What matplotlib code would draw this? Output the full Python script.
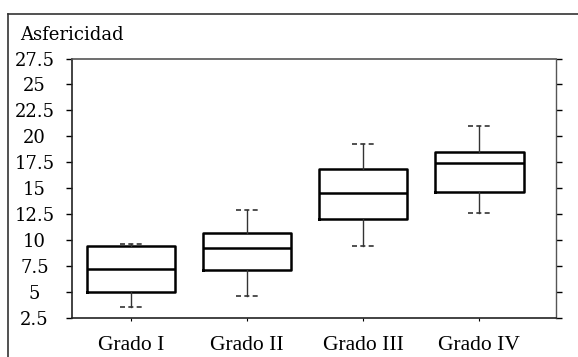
import matplotlib
matplotlib.use("Agg")
import matplotlib.pyplot as plt
from matplotlib.lines import Line2D

# Asphericity by keratoconus grade
grades = ["Grado I", "Grado II", "Grado III", "Grado IV"]
whisker_low = [3.6, 4.6, 9.4, 12.6]
q1 = [5.0, 7.1, 12.0, 14.6]
median = [7.2, 9.2, 14.5, 17.4]
q3 = [9.4, 10.7, 16.9, 18.5]
whisker_high = [9.6, 12.9, 19.3, 21.0]
y_ticks = [2.5, 5, 7.5, 10, 12.5, 15, 17.5, 20, 22.5, 25, 27.5]
y_tick_labels = ["2.5", "5", "7.5", "10", "12.5", "15", "17.5", "20", "22.5", "25", "27.5"]

W, H = 578, 357
fig = plt.figure(figsize=(W / 100, H / 100), dpi=100)
fig.patch.set_facecolor("white")

ax = fig.add_axes([72 / W, 1 - 318 / H, (556 - 72) / W, (318 - 58.5) / H])

stats = []
for i, g in enumerate(grades):
    stats.append(dict(label=g, whislo=whisker_low[i], q1=q1[i], med=median[i],
                      q3=q3[i], whishi=whisker_high[i], fliers=[]))

ax.bxp(stats, positions=[1, 2, 3, 4], widths=0.76, showfliers=False,
       boxprops=dict(color="black", linewidth=1.8),
       medianprops=dict(color="black", linewidth=1.8),
       whiskerprops=dict(color="#333333", linewidth=1.0),
       capprops=dict(color="#333333", linewidth=1.2, linestyle=(0, (3, 2))),
       capwidths=0.2)

ax.set_xlim(0.49, 4.66)
ax.set_ylim(2.5, 27.5)

ax.set_yticks(y_ticks)
ax.set_yticklabels(y_tick_labels, fontfamily="DejaVu Serif", fontsize=13)
ax.tick_params(axis="y", which="both", direction="out", length=4, width=1.0,
               pad=23, right=True, labelright=False, color="black")
for lab in ax.get_yticklabels():
    lab.set_horizontalalignment("center")

ax.set_xticks([1, 2, 3, 4])
ax.set_xticklabels(grades, fontfamily="Liberation Serif", fontsize=15.5)
ax.tick_params(axis="x", direction="out", length=2, width=0.8, pad=11)

for side in ["left", "bottom", "top", "right"]:
    ax.spines[side].set_linewidth(1.2)
    ax.spines[side].set_color("#222222")
ax.spines["top"].set_color("#555555")
ax.spines["right"].set_color("#555555")
ax.spines["right"].set_linewidth(1.0)

# outer panel frame
fig.add_artist(Line2D([8 / W, 1.0], [1 - 14 / H, 1 - 14 / H],
                      transform=fig.transFigure, color="#333333", linewidth=1.2))
fig.add_artist(Line2D([8 / W, 8 / W], [0, 1 - 14 / H],
                      transform=fig.transFigure, color="#333333", linewidth=1.2))

fig.text(20 / W, 1 - 40 / H, "Asfericidad", fontfamily="DejaVu Serif",
         fontsize=13, ha="left", va="baseline")

fig.savefig("out.png", dpi=100, facecolor="white")
